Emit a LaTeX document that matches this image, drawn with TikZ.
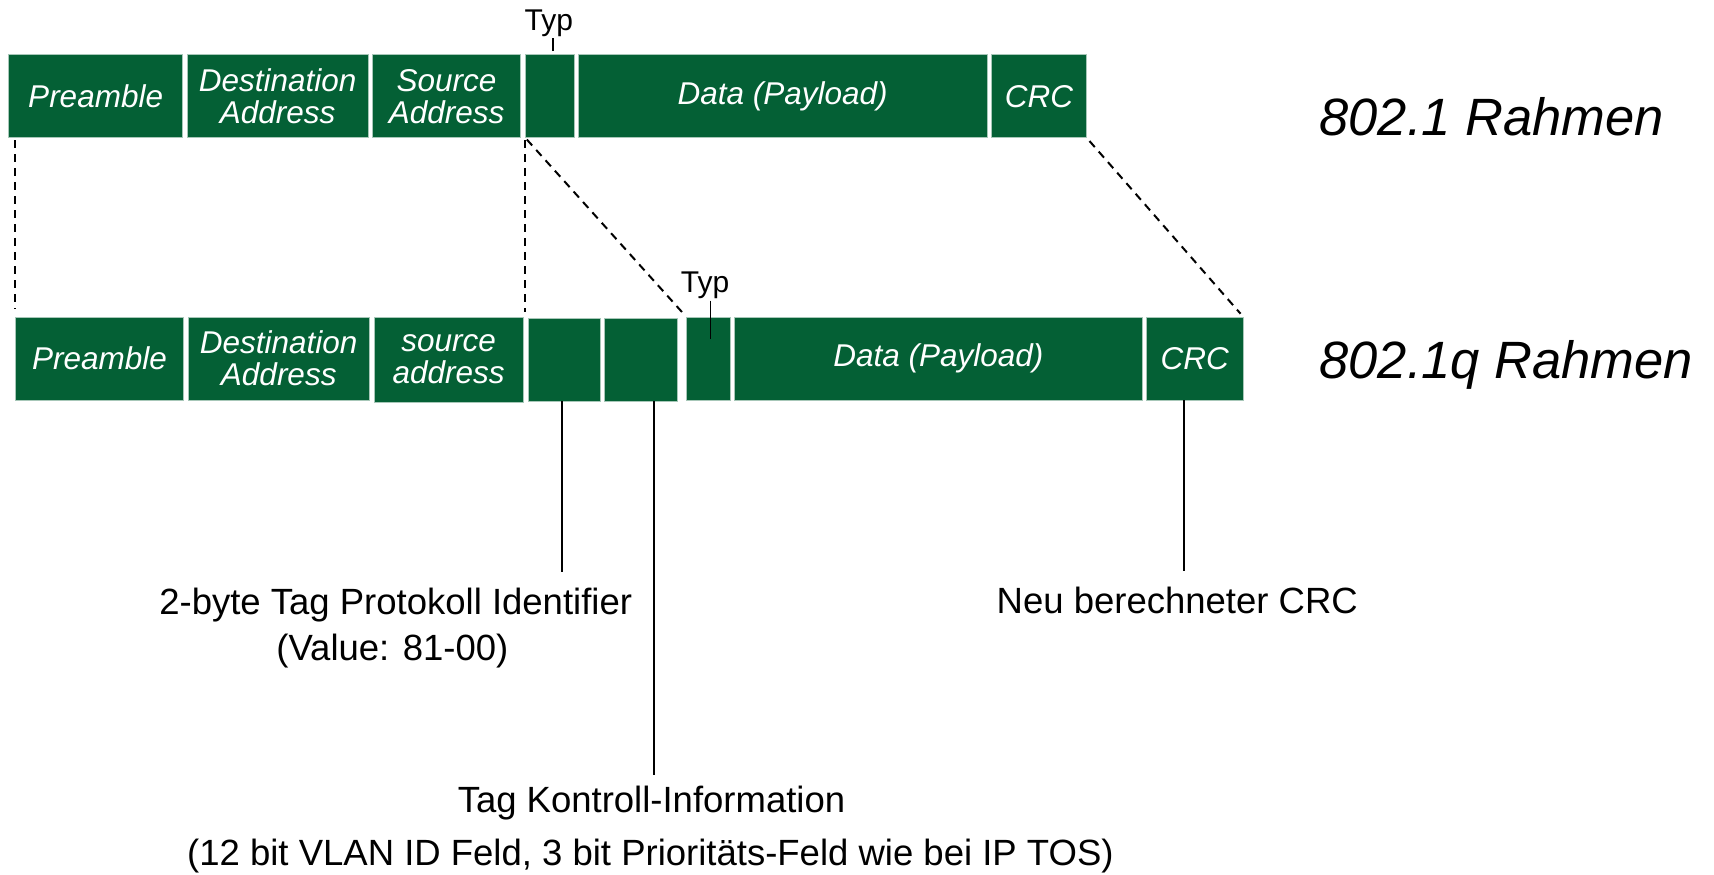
\documentclass[tikz,border=0pt]{standalone}
\usepackage{fontspec}
\setmainfont{Liberation Sans}
\definecolor{fieldgreen}{RGB}{4,96,53}
\tikzset{
  fld/.style={fill=fieldgreen, draw=fieldgreen!35!white, line width=0.6pt,
    inner sep=0pt, text=white, align=center, anchor=center,
    font=\fontsize{31.5}{32}\selectfont\itshape},
  lbl/.style={font=\fontsize{36.5}{40}\selectfont, inner sep=0pt, anchor=base},
  typlbl/.style={font=\fontsize{30}{30}\selectfont, inner sep=0pt, anchor=base},
  frametitle/.style={font=\fontsize{52.5}{56}\selectfont\itshape, inner sep=0pt, anchor=base west},
  guide/.style={line width=2pt, dash pattern=on 8pt off 6pt},
  lead/.style={line width=1.6pt},
  tick/.style={line width=1.6pt},
}
% a frame field: name, left, top, right, bottom, label
\newcommand{\framefield}[6]{%
  \node[fld, minimum width={(#4-#2)*1.0931pt}, minimum height={(#5-#3)*1.0931pt}]
    (#1) at ({(#2+#4)/2},{(#3+#5)/2}) {#6};}
\begin{document}
\begin{tikzpicture}[x=1.0931pt, y=-1.0931pt]
\useasboundingbox (0,0) rectangle (1568,800);

% 802.1 frame
\framefield{P1}{8}{50}{167}{126}{Preamble}
\framefield{D1}{171}{50}{337}{126}{Destination\\Address}
\framefield{S1}{341}{50}{476}{126}{Source\\Address}
\framefield{T1}{481}{50}{525}{126}{}
\framefield{A1}{529}{50}{903}{126}{Data (Payload)}
\framefield{C1}{907}{50}{994}{126}{CRC}
\node[typlbl] (typ1) at (502,28) {Typ};
\draw[tick] ([xshift=3.3pt,yshift=3.3pt]T1.north) -- ++(0,-12);
\node[frametitle] (title1) at (1207,124) {802.1 Rahmen};

% 802.1q frame
\framefield{P2}{14}{290}{168}{366}{Preamble}
\framefield{D2}{172}{290}{338}{366}{Destination\\Address}
\framefield{S2}{342}{290}{479}{368}{source\\address}
\framefield{G1}{483}{291}{549}{367}{}
\framefield{G2}{553}{291}{620}{367}{}
\framefield{T2}{628}{290}{668}{366}{}
\framefield{A2}{672}{290}{1045}{366}{Data (Payload)}
\framefield{C2}{1049}{290}{1137}{366}{CRC}
\node[typlbl] (typ2) at (645,268) {Typ};
\node[frametitle] (title2) at (1207,346) {802.1q Rahmen};
\draw[tick] ([xshift=2.2pt,yshift=16pt]T2.north) -- ++(0,35);

% correspondence between the two frames
\draw[guide, shorten <=2pt, shorten >=8pt] (P1.south -| P2.west) -- (P2.north west);
\draw[guide, shorten <=2pt, shorten >=5pt] (T1.south west) -- (T1.south west |- S2.north);
\draw[guide, shorten <=2pt, shorten >=2pt] (T1.south west) -- (T2.north west);
\draw[guide, shorten <=4pt, shorten >=4pt] (C1.south east) -- (C2.north east);

% explanations of the inserted and recalculated fields
\node[lbl] (tpid)  at (362,562) {2-byte Tag Protokoll Identifier};
\node[lbl] (tpidv) at (359,604) {(Value: 81-00)};
\node[lbl] (tci)   at (596,743) {Tag Kontroll-Information};
\node[lbl] (tciv)  at (595,792) {(12 bit VLAN ID Feld, 3 bit Prioritäts-Feld wie bei IP TOS)};
\node[lbl] (crcn)  at (1077,561) {Neu berechneter CRC};

\draw[lead, shorten >=16pt] ([xshift=-2pt]G1.south) -- ([xshift=-2pt]G1.south |- tpid.north);
\draw[lead, shorten >=11pt] ([xshift=13pt]G2.south) -- ([xshift=13pt]G2.south |- tci.north);
\draw[lead, shorten >=16pt] ([xshift=-11pt]C2.south) -- ([xshift=-11pt]C2.south |- crcn.north);
\end{tikzpicture}
\end{document}
